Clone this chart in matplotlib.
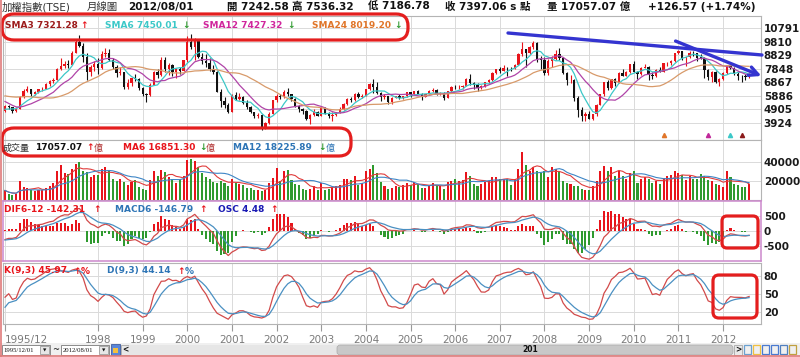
import numpy as np
import pandas as pd
import matplotlib
matplotlib.use("Agg")
from matplotlib import pyplot as plt
from matplotlib.patches import FancyBboxPatch, Rectangle

plt.rcParams['font.family'] = ['DejaVu Sans', 'Noto Sans CJK TC']

# monthly TAIEX, 1995/12 .. 2012/08 (201 bars)
# closes before the window (1994/01 .. 1995/11), only used to seed the averages
pre_closes = [6100, 5500, 5400, 5500, 5900, 6000, 6500, 6900, 7000, 6900, 6700, 7124,
              6700, 6500, 6300, 5900, 5600, 5200, 5000, 4700, 4900, 4850, 4900]

opens = [
    4800,
    5174, 5060, 4800, 4950, 5800, 6250, 6350, 6000, 6150, 6350, 6400, 6750,
    6933, 7050, 7800, 8050, 8200, 8150, 9000, 9800, 9500, 8700, 7600, 7950,
    8187, 7900, 8900, 8950, 8500, 8000, 7550, 7600, 6550, 6850, 7150, 7100,
    6418, 5998, 5950, 6700, 7600, 7400, 8450, 7800, 8150, 7600, 7850, 7700,
    8448, 9744, 9435, 9950, 8700, 8400, 8265, 7850, 7616, 6200, 5550, 5256,
    4739, 5936, 5675, 5800, 5400, 5050, 4700, 4450, 4500, 3636, 3900, 4600,
    5551, 5900, 5800, 6200, 6000, 5650, 5150, 4950, 4800, 4200, 4500, 4750,
    4452, 5000, 4600, 4400, 4500, 4700, 4900, 5300, 5650, 5600, 6050, 5800,
    5890, 6375, 6750, 6522, 6117, 5780, 5840, 5420, 5765, 5845, 5705, 5844,
    6139, 5994, 6207, 6006, 5819, 6012, 6241, 6311, 6033, 6118, 5764, 6204,
    6548, 6532, 6561, 6613, 7126, 6850, 6704, 6451, 6611, 6883, 7021, 7567,
    7823, 7699, 7901, 7884, 7875, 8145, 8883, 9287, 8982, 9411, 9711, 8586,
    8506, 7521, 8412, 8572, 8919, 8619, 7523, 7024, 7046, 5719, 4870, 4460,
    4591, 4248, 4557, 5210, 5992, 6890, 6432, 7078, 6825, 7509, 7340, 7582,
    8188, 7640, 7436, 7920, 8004, 7374, 7329, 7760, 7616, 8238, 8287, 8372,
    8973, 9145, 8600, 8683, 9008, 8988, 8652, 8644, 7741, 7225, 7587, 6904,
    7072, 7517, 8121, 7933, 7501, 7301, 7296, 7242.58,
]
highs = [
    5200,
    5250, 5100, 5100, 5900, 6400, 6600, 6400, 6250, 6400, 6550, 6850, 7000,
    7150, 7900, 8600, 8400, 8450, 9100, 10000, 10256, 9700, 9000, 8100, 8400,
    8600, 9100, 9378, 9300, 8600, 8100, 8000, 7600, 7100, 7200, 7500, 7150,
    6500, 6100, 6800, 7700, 7800, 8700, 8710, 8250, 8200, 7900, 8000, 8500,
    10200, 10393, 10100, 10000, 9000, 8900, 8600, 8100, 7700, 6400, 5800, 5400,
    6000, 6200, 6100, 5850, 5600, 5150, 4750, 4650, 4550, 4000, 4700, 5600,
    6000, 6050, 6300, 6484, 6000, 5700, 5250, 5000, 4850, 4600, 4900, 4800,
    5150, 5050, 4750, 4700, 4750, 5050, 5350, 5700, 5800, 6100, 6150, 6000,
    6400, 6800, 7135, 6900, 6150, 6000, 5900, 5800, 5900, 6000, 5900, 6200,
    6180, 6250, 6300, 6100, 6050, 6300, 6450, 6400, 6200, 6150, 6250, 6600,
    6700, 6650, 6650, 7150, 7474, 6900, 6800, 6650, 6900, 7100, 7600, 7850,
    7950, 8100, 7950, 7980, 8200, 8950, 9800, 9300, 9500, 9859, 9750, 8750,
    8700, 8550, 8800, 9200, 9309, 8700, 7600, 7400, 7100, 5900, 5050, 4700,
    4800, 4600, 5300, 6000, 6900, 7000, 7100, 7150, 7600, 7800, 7650, 8200,
    8395, 7650, 7950, 8190, 8050, 7600, 7850, 8000, 8250, 8300, 8500, 8990,
    9220, 9150, 8700, 9100, 9100, 9000, 8900, 8700, 7800, 7700, 7700, 7200,
    7600, 8150, 8170, 8000, 7650, 7400, 7500, 7536.32,
]
lows = [
    4750,
    4900, 4672, 4700, 4950, 5750, 6150, 5900, 5950, 6100, 6250, 6350, 6600,
    6850, 7000, 7750, 7900, 7900, 8100, 8950, 9400, 8300, 7040, 7350, 7700,
    7500, 7800, 8700, 8400, 7800, 7250, 7400, 6400, 6400, 6600, 6950, 6300,
    5900, 5474, 5900, 6650, 7200, 7350, 7600, 7400, 7300, 7200, 7450, 7650,
    8300, 9300, 8500, 8600, 8200, 8000, 7700, 7450, 6150, 5100, 5000, 4614,
    4700, 5600, 5600, 5300, 4950, 4650, 4300, 4300, 3411, 3500, 3850, 4550,
    5450, 5650, 5750, 5900, 5500, 5050, 4700, 4600, 4150, 3850, 4450, 4400,
    4450, 4550, 4300, 4044, 4450, 4650, 4850, 5250, 5450, 5550, 5700, 5700,
    5880, 6300, 6100, 6050, 5500, 5650, 5320, 5316, 5700, 5650, 5650, 5780,
    5800, 5950, 6000, 5600, 5800, 6000, 6200, 5950, 5950, 5618, 5750, 6150,
    6400, 6400, 6400, 6600, 6650, 6350, 6232, 6400, 6550, 6800, 6950, 7450,
    7550, 7650, 7300, 7700, 7850, 8100, 8800, 7987, 8900, 9300, 8300, 7800,
    7384, 7400, 8000, 8500, 8500, 7500, 6700, 6800, 5530, 4366, 4089, 4100,
    4200, 4164, 4400, 5200, 5900, 6300, 6400, 6600, 6800, 7300, 7300, 7550,
    7600, 7080, 7400, 7900, 7032, 7100, 7250, 7600, 7600, 8050, 8100, 8350,
    8900, 8450, 8070, 8600, 8750, 8400, 8550, 7148, 7000, 6877, 6800, 6609,
    7000, 7500, 7850, 7400, 7000, 6857, 7050, 7186.78,
]
closes = [
    5174,
    5060, 4800, 4950, 5800, 6250, 6350, 6000, 6150, 6350, 6400, 6750, 6933,
    7050, 7800, 8050, 8200, 8150, 9000, 9800, 9500, 8700, 7600, 7950, 8187,
    7900, 8900, 8950, 8500, 8000, 7550, 7600, 6550, 6850, 7150, 7100, 6418,
    5998, 5950, 6700, 7600, 7400, 8450, 7800, 8150, 7600, 7850, 7700, 8448,
    9744, 9435, 9950, 8700, 8400, 8265, 7850, 7616, 6200, 5550, 5256, 4739,
    5936, 5675, 5800, 5400, 5050, 4700, 4450, 4500, 3636, 3900, 4600, 5551,
    5900, 5800, 6200, 6000, 5650, 5150, 4950, 4800, 4200, 4500, 4750, 4452,
    5000, 4600, 4400, 4500, 4700, 4900, 5300, 5650, 5600, 6050, 5800, 5890,
    6375, 6750, 6522, 6117, 5780, 5840, 5420, 5765, 5845, 5705, 5844, 6139,
    5994, 6207, 6006, 5819, 6012, 6241, 6311, 6033, 6118, 5764, 6204, 6548,
    6532, 6561, 6613, 7126, 6850, 6704, 6451, 6611, 6883, 7021, 7567, 7823,
    7699, 7901, 7884, 7875, 8145, 8883, 9287, 8982, 9411, 9711, 8586, 8506,
    7521, 8412, 8572, 8919, 8619, 7523, 7024, 7046, 5719, 4870, 4460, 4591,
    4248, 4557, 5210, 5992, 6890, 6432, 7078, 6825, 7509, 7340, 7582, 8188,
    7640, 7436, 7920, 8004, 7374, 7329, 7760, 7616, 8238, 8287, 8372, 8973,
    9145, 8600, 8683, 9008, 8988, 8652, 8644, 7741, 7225, 7587, 6904, 7072,
    7517, 8121, 7933, 7501, 7301, 7296, 7270, 7397.06,
]
# turnover, 億
volumes = [
    10000,
    6500, 5500, 6500, 20000, 14000, 13000, 10000, 9000, 11000, 10000, 13000, 15000,
    18000, 30000, 37000, 28000, 27000, 33000, 38000, 40000, 30000, 29000, 24000, 26000,
    26000, 33000, 35000, 31000, 22000, 20000, 22000, 19000, 16000, 19000, 21000, 14000,
    12000, 10000, 21000, 30000, 25000, 31000, 29000, 24000, 22000, 18000, 21000, 25000,
    42000, 43000, 41000, 35000, 28000, 24000, 22000, 19000, 18000, 20000, 18000, 15000,
    22000, 18000, 17000, 16000, 13000, 13000, 11000, 11000, 9000, 11000, 18000, 23000,
    34000, 20000, 30000, 32000, 21000, 17000, 16000, 12000, 11000, 12000, 15000, 10000,
    18000, 11000, 12000, 14000, 15000, 16000, 22000, 22000, 21000, 25000, 16000, 18000,
    30000, 33000, 37000, 28000, 19000, 15000, 12000, 13000, 15000, 14000, 16000, 18000,
    16000, 19000, 17000, 13000, 13000, 15000, 18000, 16000, 15000, 12000, 19000, 20000,
    22000, 20000, 21000, 29000, 25000, 17000, 15000, 17000, 19000, 20000, 24000, 24000,
    22000, 22000, 22000, 16000, 22000, 33000, 50000, 37000, 30000, 35000, 30000, 28000,
    30000, 24000, 35000, 33000, 30000, 20000, 18000, 17000, 15000, 15000, 12000, 11000,
    10000, 15000, 20000, 30000, 36000, 30000, 35000, 25000, 30000, 25000, 22000, 28000,
    30000, 18000, 22000, 24000, 22000, 18000, 20000, 17000, 23000, 25000, 26000, 30000,
    28000, 26000, 21000, 25000, 22000, 22000, 27000, 25000, 21000, 19500, 17000, 15500,
    14154, 30500, 24000, 17000, 16000, 13500, 13500, 17057.07,
]

year_labels = ['1995/12', '1998', '1999', '2000', '2001', '2002', '2003', '2004',
               '2005', '2006', '2007', '2008', '2009', '2010', '2011', '2012']
year_ticks = [0, 25, 37, 49, 61, 73, 85, 97, 109, 121, 133, 145, 157, 169, 181, 193]
main_ticks = [3924, 4905, 5886, 6867, 7848, 8829, 9810, 10791]
kd_start = 20

RED, GREEN, BLACK = '#e8141b', '#2f9a2f', '#111111'
W, H = 800, 357
fig = plt.figure(figsize=(W / 100, H / 100), dpi=100)
fig.patch.set_facecolor('white')


def panel(top, bottom, left=3, right=761):
    return fig.add_axes([left / W, 1 - bottom / H, (right - left) / W, (bottom - top) / H])


o, h, l, c, v = map(np.array, (opens, highs, lows, closes, volumes))
n = len(c)
idx = np.arange(n)
up = c >= o
k0 = len(pre_closes)
all_c = pd.Series(np.concatenate([pre_closes, closes]))

ax_main = panel(16, 140)
ax_vol = panel(140, 200)
ax_macd = panel(201, 261)
ax_kd = panel(263, 324)

for ax in (ax_main, ax_vol, ax_macd, ax_kd):
    ax.set_xlim(-0.54, 203.2)
    ax.set_xticks(year_ticks)
    ax.grid(True, color='#dadada', lw=0.7)
    ax.set_axisbelow(True)
    ax.yaxis.tick_right()
    ax.tick_params(axis='y', length=0, pad=2, labelsize=7.5, labelcolor='#1a1a1a')
    ax.tick_params(axis='x', bottom=False, labelbottom=False)
    for s in ax.spines.values():
        s.set_color('#b4b4b4')
        s.set_linewidth(0.8)

# candles + moving averages
ax_main.vlines(idx, l, h, colors=np.where(up, RED, BLACK), lw=0.8)
ax_main.bar(idx, np.maximum(np.abs(c - o), 25), bottom=np.minimum(o, c), width=0.62,
            color=np.where(up, RED, BLACK))
for period, col in ((6, '#3cc8c8'), (12, '#b044a8'), (24, '#d89a6a')):
    ax_main.plot(idx, all_c.rolling(period).mean().values[k0:], color=col, lw=0.9)
for period, col in ((24, '#e0762a'), (12, '#c0289a'), (6, '#3cc8c8'), (3, '#8b1a1a')):
    ax_main.plot(n - period, 0.04, marker='^', ms=3, color=col,
                 transform=ax_main.get_xaxis_transform(), clip_on=False)
ax_main.set_ylim(2695, 11658)
ax_main.set_yticks(main_ticks, [str(t) for t in main_ticks], fontweight='bold')

# volume
vs = pd.Series(v)
ax_vol.bar(idx, v, width=0.55, color=np.where(up, RED, GREEN))
ax_vol.plot(idx, vs.rolling(6, min_periods=1).mean(), color='#e03c3c', lw=0.8)
ax_vol.plot(idx, vs.rolling(12, min_periods=1).mean(), color='#3d85c6', lw=0.8)
ax_vol.set_ylim(0, 63000)
ax_vol.set_yticks([20000, 40000], ['20000', '40000'], fontweight='bold')


# MACD
def ema(x, span):
    return pd.Series(x).ewm(span=span, adjust=False).mean().values


dif = ema(all_c, 6) - ema(all_c, 12)
sig = ema(dif, 6)
osc = (dif - sig)[k0:]
ax_macd.bar(idx, osc * 2, width=0.55, color=np.where(osc >= 0, RED, GREEN))
ax_macd.plot(idx, dif[k0:], color='#d24a4a', lw=0.9)
ax_macd.plot(idx, sig[k0:], color='#4a90c2', lw=0.9)
ax_macd.set_ylim(-1010, 1023)
ax_macd.set_yticks([-500, 0, 500], ['-500', '0', '500'], fontweight='bold')
for s in ax_macd.spines.values():
    s.set_color('#cc88cc')
    s.set_linewidth(1.1)

# KD(9,3)
K = np.empty(n)
D = np.empty(n)
kp = dp = kd_start
for i in range(n):
    lo, hi = l[max(0, i - 8):i + 1].min(), h[max(0, i - 8):i + 1].max()
    rsv = (c[i] - lo) / (hi - lo) * 100
    kp = kp * 2 / 3 + rsv / 3
    dp = dp * 2 / 3 + kp / 3
    K[i], D[i] = kp, dp
ax_kd.plot(idx, K, color='#d24a4a', lw=0.9)
ax_kd.plot(idx, D, color='#4a90c2', lw=0.9)
ax_kd.set_ylim(0.8, 100.8)
ax_kd.set_yticks([20, 50, 80], ['20', '50', '80'], fontweight='bold')
ax_kd.tick_params(axis='x', bottom=True, labelbottom=True, length=5, color='#999999',
                  labelcolor='#7a7a7a', labelsize=7.5, pad=3)
ax_kd.set_xticks(year_ticks, year_labels)
ax_kd.get_xticklabels()[0].set_ha('left')

# overlay in pixel units: texts, marker shapes, bottom bar
ov = fig.add_axes([0, 0, 1, 1], zorder=10)
ov.set_xlim(0, W)
ov.set_ylim(H, 0)
ov.axis('off')


def t(x, y, s, col, size=6.5, weight='bold', **kw):
    ov.text(x, y, s, color=col, fontsize=size, fontweight=weight, va='center', ha='left', **kw)


t(2, 7, '加權指數(TSE)', '#333333', 7.5, 'normal')
t(87, 7, '月線圖', '#333333', 7.5, 'normal')
t(128, 7, '2012/08/01', BLACK, 7.5)
t(227, 7, '開 7242.58', BLACK, 7.5)
t(292, 7, '高 7536.32', BLACK, 7.5)
t(368, 7, '低 7186.78', BLACK, 7.5)
t(445, 7, '收 7397.06 s 點', BLACK, 7.5)
t(547, 7, '量 17057.07 億', BLACK, 7.5)
t(648, 7, '+126.57 (+1.74%)', BLACK, 7.5)

t(5, 25, 'SMA3 7321.28', '#9c1c1c')
t(80, 25, '↑', RED)
t(105, 25, 'SMA6 7450.01', '#3cc8c8')
t(182, 25, '↓', GREEN)
t(203, 25, 'SMA12 7427.32', '#d0269c')
t(287, 25, '↓', GREEN)
t(312, 25, 'SMA24 8019.20', '#e0762a')
t(394, 25, '↓', GREEN)

t(3, 148, '成交量', '#333333', 6.5, 'normal')
t(35, 148, '17057.07', BLACK)
t(86, 148, '↑', RED)
t(94, 148, '億', '#b03030', 6.5, 'normal')
t(123, 148, 'MA6 16851.30', RED)
t(199, 148, '↓', GREEN)
t(206, 148, '億', '#b03030', 6.5, 'normal')
t(233, 148, 'MA12 18225.89', '#2e75b6')
t(318, 148, '↓', GREEN)
t(326, 148, '億', '#2e75b6', 6.5, 'normal')

t(4, 210, 'DIF6-12 -142.31', RED)
t(93, 210, '↑', RED)
t(115, 210, 'MACD6 -146.79', '#2e75b6')
t(199, 210, '↑', RED)
t(218, 210, 'OSC 4.48', '#1a1ab4')
t(270, 210, '↑', RED)

t(4, 271, 'K(9,3) 45.97', RED)
t(73, 271, '↑', RED)
t(81, 271, '%', RED)
t(107, 271, 'D(9,3) 44.14', '#2e75b6')
t(177, 271, '↑', RED)
t(185, 271, '%', '#2e75b6')

# hand-drawn highlights
for x0, y0, x1, y1, r in ((2, 14, 408, 40, 12), (2, 128, 351, 156, 12),
                          (722, 216, 758, 248, 5), (713, 275, 757, 318, 6)):
    ov.add_patch(FancyBboxPatch((x0, y0), x1 - x0, y1 - y0,
                                boxstyle='round,pad=0,rounding_size=%d' % r,
                                fc='none', ec='#e41e1e', lw=2.3))
ov.plot([508, 762], [33, 55], color='#3434d0', lw=2.4, solid_capstyle='round')
ov.annotate('', xy=(764, 77), xytext=(673, 40),
            arrowprops=dict(arrowstyle='->', color='#3434d0', lw=2.4, mutation_scale=16))

# bottom date / scroll bar
ov.add_patch(Rectangle((0, 343), W, 14, fc='#f0f0f0', ec='none'))
for bx, label in ((2, '1995/12/01'), (61, '2012/08/01')):
    ov.add_patch(Rectangle((bx, 345), 48, 10, fc='white', ec='#7a7a7a', lw=0.6))
    ov.add_patch(Rectangle((bx + 38, 346), 9, 8, fc='#e6e6e6', ec='#8a8a8a', lw=0.5))
    ov.text(bx + 1.5, 350.5, label, fontsize=4.8, family='Liberation Serif', va='center', color=BLACK)
    ov.text(bx + 42.5, 350.5, '▼', fontsize=3.2, va='center', ha='center', color=BLACK)
ov.text(56, 350, '~', fontsize=6, va='center', ha='center', color=BLACK)
ov.add_patch(Rectangle((111, 344), 9, 11, fc='#5a86d8', ec='#2a4a90', lw=0.5))
ov.add_patch(Rectangle((113, 348), 5, 5, fc='#f2c040', ec='none'))
ov.add_patch(Rectangle((121, 345), 8, 10, fc='#e8e8e8', ec='#9a9a9a', lw=0.5))
ov.text(125, 350, '<', fontsize=5.5, va='center', ha='center', color=BLACK, fontweight='bold')
ov.add_patch(Rectangle((129, 345), 208, 10, fc='#e6e6e6', ec='none'))
ov.add_patch(FancyBboxPatch((337, 345), 396, 10, boxstyle='round,pad=0,rounding_size=3',
                            fc='#c8c8c8', ec='#a8a8a8', lw=0.5))
ov.text(530, 350, '201', fontsize=5.5, fontweight='bold', va='center', ha='center', color=BLACK)
ov.add_patch(Rectangle((734, 345), 8, 10, fc='#e8e8e8', ec='#9a9a9a', lw=0.5))
ov.text(738, 350, '>', fontsize=5.5, va='center', ha='center', color=BLACK, fontweight='bold')
for ix, col in zip(range(744, 800, 9), ('#6aa0d0', '#f0c040', '#4a7ad0', '#4a7ad0', '#5080c0', '#c0a040')):
    ov.add_patch(Rectangle((ix, 345), 7, 9, fc='none', ec=col, lw=0.9))
ov.plot([0.6, 0.6], [0, H], color='#e07a7a', lw=1.2)
ov.plot([0, W], [356.4, 356.4], color='#e07a7a', lw=1.2)

fig.savefig('out.png', dpi=100)
